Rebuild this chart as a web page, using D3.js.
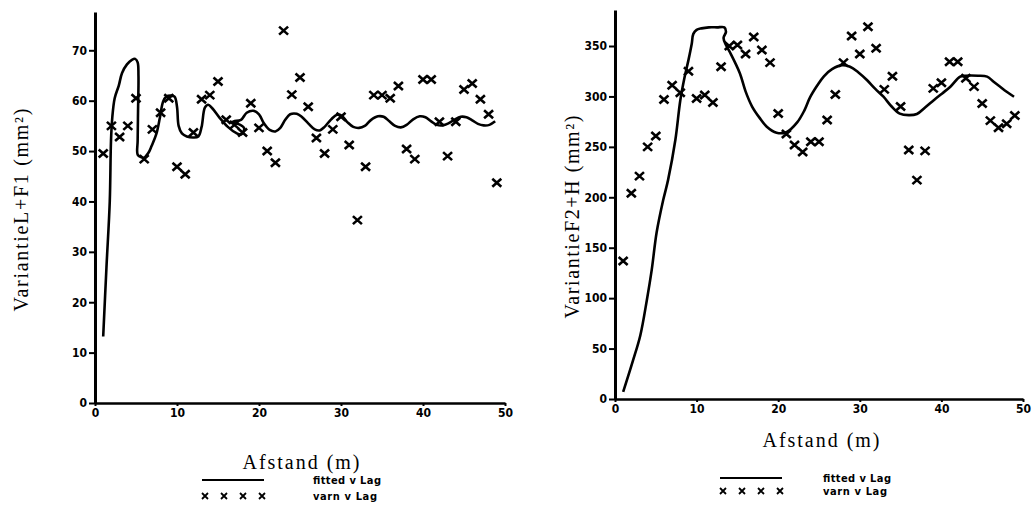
<!DOCTYPE html>
<html>
<head>
<meta charset="utf-8">
<script src="https://cdn.jsdelivr.net/npm/d3@7"></script>
<style>
  body { margin: 0; background: #fff; }
  .tick text { font-family: 'Liberation Sans Narrow', 'DejaVu Sans Condensed', sans-serif; font-weight: 900; font-size: 12px; fill: #000; }
  .axis path, .axis line { stroke: #000; }
  .axis-title { font-family: 'Liberation Serif', 'Times New Roman', serif; fill: #000; }
  .legend-label { font-family: 'Liberation Sans Narrow', 'DejaVu Sans Condensed', sans-serif; font-weight: 900; font-size: 11px; fill: #000; }
</style>
</head>
<body>
<svg id="chart" width="1033" height="508"></svg>
<script>
// lag distances (m)
const lags = [1, 2, 3, 4, 5, 6, 7, 8, 9, 10, 11, 12, 13, 14, 15, 16, 17, 18, 19, 20,
  21, 22, 23, 24, 25, 26, 27, 28, 29, 30, 31, 32, 33, 34, 35, 36, 37, 38, 39, 40,
  41, 42, 43, 44, 45, 46, 47, 48, 49];

// experimental variance L+F1
const varLF1 = [49.5, 55, 52.8, 55, 60.5, 48.4, 54.3, 57.6, 60.5, 46.9, 45.4, 53.7, 60.3, 61.1, 63.8,
  56.2, 55.2, 53.7, 59.5, 54.6, 50, 47.7, 73.9, 61.2, 64.6, 58.8, 52.6, 49.5, 54.3, 56.8,
  51.2, 36.3, 46.9, 61.1, 61.1, 60.5, 62.9, 50.4, 48.4, 64.2, 64.2, 55.8, 49, 55.8, 62.2,
  63.4, 60.3, 57.3, 43.7];

// experimental variance F2+H
const varF2H = [136.8, 204, 221, 250, 260.8, 297, 311, 303.7, 325, 298, 301.4, 294, 329.5, 350, 351,
  342, 359, 346, 333.5, 283, 262.7, 251.8, 245, 255, 255, 276.6, 302, 333.5, 360, 342,
  369, 347.7, 307, 320, 290, 246.9, 217, 246, 308, 313.6, 334.4, 334.4, 318, 309.7, 293,
  276, 269, 273, 281];

// fitted curve L+F1 (traced, in drawing order)
const fitLF1X = [1.0, 1.4, 1.8, 1.95, 2.1, 2.4, 2.9, 3.3, 3.9, 4.5, 4.9, 5.2, 5.3, 5.25, 5.2, 5.2, 5.6, 6.0,
  6.5, 6.9, 7.5, 7.9, 8.3, 8.7, 9.2, 9.7, 10.0, 10.2, 10.6, 11.2, 12.0, 12.6, 13.0, 13.4, 13.8,
  14.3, 15.2, 16.2, 17.2, 17.8, 18.2, 17.6, 16.6, 16.9, 17.8, 18.5, 19.3, 20.0, 20.6, 21.3,
  22.0, 22.6, 23.2, 23.8, 24.6, 25.2, 26.0, 26.8, 27.4, 28.0, 28.8, 29.5, 30.1, 30.8, 31.5,
  32.2, 32.9, 33.6, 34.5, 35.2, 35.9, 36.6, 37.3, 38.0, 38.8, 39.6, 40.3, 41.0, 41.7, 42.4,
  43.1, 43.8, 44.6, 45.3, 46.0, 46.7, 47.4, 48.1, 48.8];
const fitLF1Y = [13.2, 27, 40, 52, 56.5, 60.5, 63, 65.5, 67.2, 68.1, 68.3, 67.6, 65, 58, 52, 49.3, 48.8, 48.7,
  49.6, 51, 53.5, 56.5, 59.8, 60.8, 61, 60.8, 58.8, 55, 53.5, 52.9, 52.7, 52.9, 54.8, 58.6, 59.2,
  58.5, 56.6, 54.8, 53.6, 53.3, 54.5, 55.3, 55.6, 55.9, 56.2, 57.6, 58.0, 57.3, 55.5, 54.2,
  53.9, 54.6, 56.2, 57.3, 57.4, 56.8, 55.5, 54.3, 54.1, 54.8, 56.3, 57.2, 57.0, 55.7, 54.8,
  54.6, 55.0, 56.1, 56.9, 56.8, 55.9, 55.0, 54.7, 55.2, 56.3, 56.9, 56.7, 55.9, 55.2, 55.1,
  55.5, 56.2, 56.8, 56.7, 56.1, 55.4, 55.1, 55.2, 55.9];

// fitted curve F2+H (traced, in drawing order)
const fitF2HX = [1.0, 2.2, 3.1, 3.9, 4.5, 5.1, 5.9, 6.5, 7.4, 8.0, 8.5, 9.0, 9.4, 9.6, 10.0, 10.6, 11.5,
  12.5, 13.4, 13.6, 13.3, 13.6, 14.2, 15.3, 16.0, 16.8, 17.7, 18.6, 19.8, 21.0, 22.3, 23.2,
  23.9, 24.8, 25.6, 26.6, 27.8, 28.8, 29.8, 30.9, 31.9, 32.9, 33.9, 34.9, 36.0, 37.0, 38.0,
  39.1, 40.1, 41.1, 42.3, 43.0, 44.5, 45.6, 46.4, 47.2, 48.0, 48.9];
const fitF2HY = [7, 38, 63, 98, 128, 165, 197, 217, 257, 296, 318, 336, 352, 362, 366, 367.5, 368.5,
  368.5, 368.5, 364, 358, 351, 342, 323, 305, 290, 279, 270, 264, 264.5, 274, 286,
  299, 311, 320, 327, 331, 329.5, 324, 316, 307.5, 299.7, 290, 283, 281.5, 282.6, 289,
  296.5, 303, 309.6, 319.6, 320.5, 320.5, 319.6, 314.6, 309.6, 304.6, 299.7];

const xTicks = [0, 10, 20, 30, 40, 50];
const yTicksLF1 = [0, 10, 20, 30, 40, 50, 60, 70];
const yTicksF2H = [0, 50, 100, 150, 200, 250, 300, 350];
const legendLabels = ['fitted v Lag', 'varn v Lag'];

class VariogramPanel {
  constructor(_config, _data) {
    this.config = _config;
    this.data = _data;
    this.initVis();
  }

  initVis() {
    let vis = this;
    const c = vis.config;

    vis.xScale = d3.scaleLinear().domain([0, 50]).range([c.left, c.right]);
    vis.yScale = d3.scaleLinear().domain([0, c.yMax]).range([c.bottom, c.top]);

    vis.g = d3.select('#chart').append('g');

    vis.xAxis = d3.axisBottom(vis.xScale)
      .tickValues(xTicks)
      .tickSize(3)
      .tickSizeOuter(0)
      .tickPadding(2);

    vis.yAxis = d3.axisLeft(vis.yScale)
      .tickValues(c.yTicks)
      .tickSize(6)
      .tickSizeOuter(0)
      .tickPadding(2);

    vis.renderVis();
  }

  renderVis() {
    let vis = this;
    const c = vis.config;

    // fitted curve
    const line = d3.line()
      .x(d => vis.xScale(d[0]))
      .y(d => vis.yScale(d[1]))
      .curve(d3.curveCatmullRom.alpha(0.5));

    vis.g.append('path')
      .datum(vis.data.fitX.map((x, i) => [x, vis.data.fitY[i]]))
      .attr('d', line)
      .attr('fill', 'none')
      .attr('stroke', '#000')
      .attr('stroke-width', 2.6)
      .attr('stroke-linejoin', 'round');

    // experimental points as crosses
    vis.g.selectAll('.pt')
      .data(vis.data.lags.map((x, i) => [x, vis.data.obs[i]]))
      .join('path')
      .attr('class', 'pt')
      .attr('transform', d => `translate(${vis.xScale(d[0])},${vis.yScale(d[1])})`)
      .attr('d', 'M-4.5,-4L4.5,4M-4.5,4L4.5,-4')
      .attr('stroke', '#000')
      .attr('stroke-width', 2.6);

    // axes
    const xg = vis.g.append('g')
      .attr('class', 'axis')
      .attr('transform', `translate(0,${c.bottom})`)
      .call(vis.xAxis);
    xg.select('.domain').attr('stroke-width', 2.5);
    xg.selectAll('.tick line').attr('stroke-width', 2);

    const yg = vis.g.append('g')
      .attr('class', 'axis')
      .attr('transform', `translate(${c.left},0)`)
      .call(vis.yAxis);
    yg.select('.domain').attr('stroke-width', 3);
    yg.selectAll('.tick line').attr('stroke-width', 2);

    // axis titles
    vis.g.append('text')
      .attr('class', 'axis-title')
      .attr('transform', `translate(${c.yTitleX},${c.yTitleY}) rotate(-90)`)
      .attr('text-anchor', 'middle')
      .attr('font-size', '20px')
      .attr('textLength', 203)
      .text(c.yTitle);

    vis.g.append('text')
      .attr('class', 'axis-title')
      .attr('x', c.xTitleX)
      .attr('y', c.xTitleY)
      .attr('text-anchor', 'middle')
      .attr('font-size', '20px')
      .attr('textLength', 117)
      .text('Afstand (m)');

    // legend
    const lg = vis.g.append('g')
      .attr('transform', `translate(${c.legendX},${c.legendY})`);
    lg.append('line')
      .attr('x1', 0).attr('x2', 62)
      .attr('y1', 0).attr('y2', 0)
      .attr('stroke', '#000')
      .attr('stroke-width', 2);
    lg.selectAll('.lx')
      .data([3, 22, 41, 60])
      .join('path')
      .attr('class', 'lx')
      .attr('transform', d => `translate(${d},${c.legendGap})`)
      .attr('d', 'M-3,-3L3,3M-3,3L3,-3')
      .attr('stroke', '#000')
      .attr('stroke-width', 1.8);
    lg.selectAll('.legend-label')
      .data(legendLabels)
      .join('text')
      .attr('class', 'legend-label')
      .attr('x', c.legendTextDx)
      .attr('y', (d, i) => 4 + i * c.legendGap)
      .attr('textLength', (d, i) => i === 0 ? 68 : 64)
      .text(d => d);
  }
}

new VariogramPanel({
  left: 95, right: 505, top: 12, bottom: 403, yMax: 77.6,
  yTicks: yTicksLF1,
  yTitle: 'VariantieL+F1 (mm²)', yTitleX: 28, yTitleY: 210,
  xTitleX: 301, xTitleY: 469,
  legendX: 202, legendY: 480, legendGap: 16, legendTextDx: 111
}, { lags: lags, obs: varLF1, fitX: fitLF1X, fitY: fitLF1Y });

new VariogramPanel({
  left: 615, right: 1023, top: 10, bottom: 399, yMax: 385.7,
  yTicks: yTicksF2H,
  yTitle: 'VariantieF2+H (mm²)', yTitleX: 579, yTitleY: 217,
  xTitleX: 821, xTitleY: 447,
  legendX: 720, legendY: 478, legendGap: 13, legendTextDx: 103
}, { lags: lags, obs: varF2H, fitX: fitF2HX, fitY: fitF2HY });
</script>
</body>
</html>
